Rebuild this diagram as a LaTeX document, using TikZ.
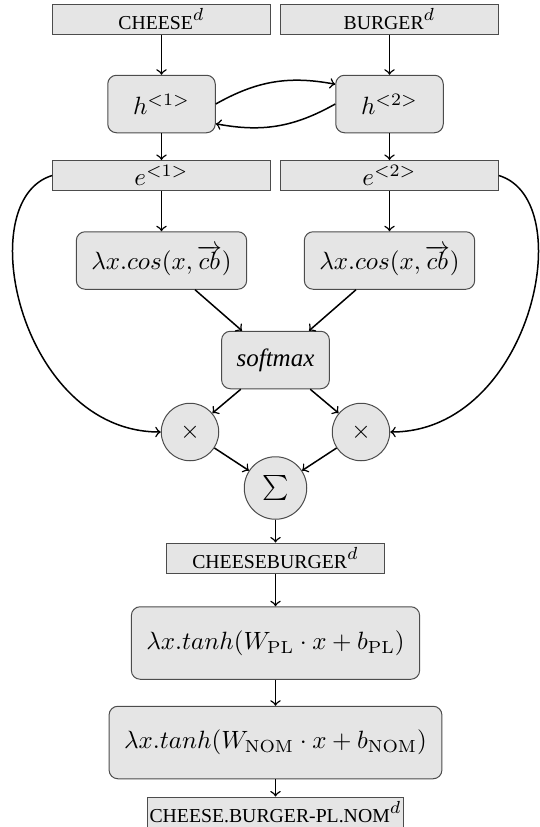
\documentclass[tikz,border=0pt]{standalone}
\usepackage[no-math]{fontspec}
\setmainfont{Liberation Serif}
\newcommand{\wordsc}[1]{{\fontsize{7.9}{9}\selectfont #1}}

\begin{document}
\begin{tikzpicture}[x=0.4pt,y=-0.4pt,
   emb/.style={rectangle,draw=black!70,fill=black!10,
     minimum width=87pt,minimum height=12pt,inner sep=1.5pt},
   fn/.style={rectangle,rounded corners=3.5pt,draw=black!70,fill=black!10,
     minimum width=43pt,minimum height=23pt,inner xsep=6pt},
   op/.style={circle,draw=black!70,fill=black!10,
     minimum size=23pt,inner sep=0pt},
   link/.style={->,semithick}]
   \useasboundingbox (0,0) rectangle (540,827);
   % words in
   \draw (161.5,19) node[emb] (cheese) {\wordsc{CHEESE}$^d$};
   \draw (389.5,19) node[emb] (burger) {\wordsc{BURGER}$^d$};
   % encoder
   \draw (161.5,104) node[fn] (h1) {$h^{<1>}$};
   \draw (389.5,104) node[fn] (h2) {$h^{<2>}$};
   \draw (161.5,175.5) node[emb] (e1) {$e^{<1>}$};
   \draw (389.5,175.5) node[emb] (e2) {$e^{<2>}$};
   % attention
   \draw (161.5,260.5) node[fn] (cos1) {$\lambda x.cos(x,\overrightarrow{cb})$};
   \draw (389.5,260.5) node[fn] (cos2) {$\lambda x.cos(x,\overrightarrow{cb})$};
   \draw (275.5,360) node[fn] (soft) {\textit{softmax}};
   \draw (190,432) node[op] (mul1) {$\times$};
   \draw (361,432) node[op] (mul2) {$\times$};
   \draw (275.5,488) node[op,minimum size=25pt] (sum) {$\sum$};
   % compound
   \draw (275.5,558) node[emb] (cb) {\wordsc{CHEESEBURGER}$^d$};
   \draw (275.5,643) node[fn,minimum height=29pt] (pl)
      {$\lambda x.tanh(W_{\mathrm{PL}}\cdot x+b_{\mathrm{PL}})$};
   \draw (275.5,742.5) node[fn,minimum height=29pt] (nom)
      {$\lambda x.tanh(W_{\mathrm{NOM}}\cdot x+b_{\mathrm{NOM}})$};
   \draw (275.5,812) node[emb,inner xsep=1pt] (out)
      {\wordsc{CHEESE.BURGER-PL.NOM}$^d$};

   \draw[link] (cheese)--(h1);
   \draw[link] (burger)--(h2);
   \draw[link] (h1.east) to[bend left=20] (h2.160);
   \draw[link] (h2.west) to[bend left=20] (h1.-20);
   \draw[link] (h1)--(e1);
   \draw[link] (h2)--(e2);
   \draw[link] (e1)--(cos1);
   \draw[link] (e2)--(cos2);
   \draw[link] (cos1)--(soft);
   \draw[link] (cos2)--(soft);
   \draw[link] (soft)--(mul1);
   \draw[link] (soft)--(mul2);
   \draw[link] (e1.west) .. controls (-30,200) and (20,432) .. (mul1.west);
   \draw[link] (e2.east) .. controls (581,200) and (531,432) .. (mul2.east);
   \draw[link] (mul1)--(sum);
   \draw[link] (mul2)--(sum);
   \draw[link] (sum)--(cb);
   \draw[link] (cb)--(pl);
   \draw[link] (pl)--(nom);
   \draw[link] (nom)--(out);
\end{tikzpicture}
\end{document}
